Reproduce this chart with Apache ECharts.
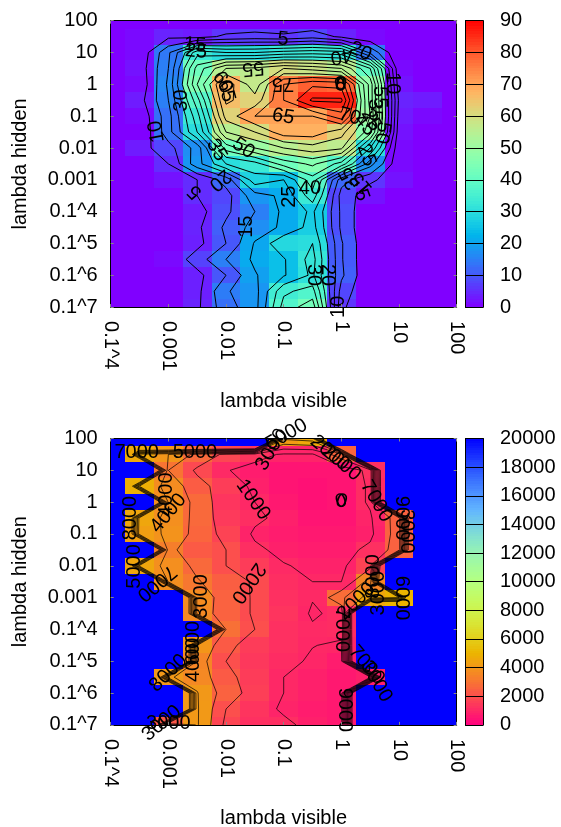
<!DOCTYPE html>
<html><head><meta charset="utf-8">
<style>html,body{margin:0;padding:0;background:#fff}#c{width:561px;height:827px}</style>
<script src="https://cdn.jsdelivr.net/npm/echarts@6/dist/echarts.min.js"></script>
</head><body><div id="c"></div>
<script>
var xTickLabels=['0.1^4','0.001','0.01','0.1','1','10','100'];
var yTickLabels=['0.1^7','0.1^6','0.1^5','0.1^4','0.001','0.01','0.1','1','10','100'];
var xName='lambda visible', yName='lambda hidden';
// rows listed from lambda hidden = 100 (top) down to 0.1^7
var accuracyRows=[
[0,0,0,0,0,0,0,0,0,0,0,0,0],
[0,1,4,3,6,7,6,8,4,1,0,0,0],
[0,1,14,33,30,30,32,33,32,14,0,0,0],
[0,2,15,42,55,56,60,58,55,40,1,0,0],
[0,1,16,45,68,57,75,79,78,48,2,0,0],
[0,3,15,38,66,62,75,86,86,48,4,3,0],
[0,1,13,33,62,70,70,70,78,50,3,1,0],
[0,0,13,30,55,60,68,68,62,47,2,0,0],
[0,3,8,17,42,50,55,58,56,30,1,0,0],
[0,0,5,18,30,33,42,46,38,17,1,0,0],
[0,0,2,5,12,28,25,38,12,6,2,0,0],
[0,0,0,5,8,18,21,33,8,2,0,0,0],
[0,0,0,3,9,15,21,26,9,0,0,0,0],
[0,0,0,4,11,17,21,27,9,0,0,0,0],
[0,0,0,3.5,10,20.5,29,30,10.5,0,0,0,0],
[0,0,1,7.5,15,21,24.5,32,10.5,0,0,0,0],
[0,0,0,3.5,10,19.5,24.5,31,11,0,0,0,0],
[0,0,0,3.5,14.5,18,34,37,8,0,0,0,0],
[0,0,0,4,13,18,37,43,6,0,0,0,0]];
var B=26000;
var timeRows=[
[B,B,B,B,B,B,4200,4600,B,B,B,B,B],
[B,4600,4000,2700,1800,1300,900,900,2600,B,B,B,B],
[B,B,3000,1840,1050,700,500,500,500,1200,B,B,B],
[B,4800,3700,2350,1550,800,500,400,500,1100,B,B,B],
[B,B,3800,2730,1330,1000,600,400,500,1100,B,B,B],
[B,4500,3800,2700,1450,1150,800,500,500,900,2500,B,B],
[B,4300,3900,2600,1700,880,700,600,600,800,2500,B,B],
[B,B,3300,2300,2000,1150,800,700,700,1200,2500,B,B],
[B,4500,3800,2700,2000,1500,1050,850,850,1700,B,B,B],
[B,B,3800,3100,2400,1900,1150,1000,1000,3500,B,B,B],
[B,B,B,3700,2500,1900,1200,1020,2800,4500,5000,B,B],
[B,B,B,3600,2500,1900,1300,950,1100,B,B,B,B],
[B,B,B,B,2900,2000,1200,1050,1100,B,B,B,B],
[B,B,B,4000,2300,1500,1200,1010,950,B,B,B,B],
[B,B,B,3500,2000,1400,1100,950,700,B,B,B,B],
[B,B,4100,3600,2300,1500,1000,800,600,800,B,B,B],
[B,B,B,4050,2500,1600,1000,800,600,B,B,B,B],
[B,B,B,4100,2000,1300,900,700,600,B,B,B,B],
[B,B,2200,4100,1750,1200,1150,800,600,B,B,B,B]];
var accuracyLevels=[5,10,15,20,25,30,35,40,45,50,55,60,65,70,75,80,85];
var timeLevels=[1000,2000,3000,4000,5000,6000,7000,8000,9000,10000];
// contour labels: text, column, row, angle
var accuracyLabels=[['5',5.98,16.83,-5],['15',2.92,16.48,-5],['25',2.96,16.06,-5],['20',8.66,16.06,-25],['40',8.0,15.79,190],['55',4.94,15.01,185],['30',2.46,12.98,90],['10',1.59,11.03,100],['60',3.88,14.11,-60],['65',4.0,13.6,-75],['75',5.98,14.03,180],['65',5.98,11.97,-10],['70',8.29,11.97,-15],['50',4.6,9.98,-35],['35',3.67,9.87,-60],['20',3.79,7.99,220],['5',2.92,7.25,135],['25',6.21,6.94,90],['40',6.91,7.46,0],['15',4.71,5.05,90],['30',7.02,2.01,-90],['20',7.52,2.01,-90],['10',7.9,0.02,90],['10',9.79,14.07,-90],['55',9.33,13.19,-90],['35',9.16,12.39,-90],['25',9.04,11.76,-60],['45',8.81,11.45,-50],['50',9.42,10.96,-100],['25',8.87,9.56,-70],['35',8.29,8.09,120],['15',8.7,7.78,130],['5',8.7,7.04,-70],['0',7.97,13.96,20],['0',7.97,13.96,-20],['8',7.97,13.96,0]];
var timeLabels=[['7000',0.9,17.09,0],['5000',2.92,17.09,0],['5000',6.1,18.24,30],['3000',5.58,17.3,60],['2000',7.6,17.09,-40],['2000',8.0,16.46,-40],['7000',9.21,14.05,-60],['9000',10.08,13,-90],['3000',10.25,12.16,-90],['8000',0.67,13,90],['5000',0.84,9.96,90],['7000',1.59,8.91,-140],['4000',1.94,14.47,90],['4000',2.0,13.31,50],['3000',3.15,8.07,90],['2000',4.77,8.91,-125],['1000',4.94,14.15,-55],['8000',9.1,9.33,90],['3000',9.27,8.28,90],['6000',10.08,7.97,-90],['2000',8.52,7.76,45],['7000',8.0,5.97,-90],['6000',2.86,5.14,90],['4000',2.86,4.09,90],['8000',2.0,3.25,45],['3000',2.0,0.06,0],['3000',1.77,0.1,40],['7000',8.87,3.77,-50],['3000',9.21,2.73,-60],['9000',8.12,0.94,-90],['0',8.0,14.05,20],['0',8.0,14.05,-20]];
var accuracyTicks={max:90,step:10}, timeTicks={max:20000,step:2000};

var FONT='"Liberation Sans"', FS=20;
function rainbow(t){t=Math.max(0,Math.min(1,t));return 'rgb('+[Math.abs(2*t-0.5),Math.sin(Math.PI*t),Math.cos(Math.PI*t/2)].map(function(v){return Math.round(255*Math.min(1,v));}).join(',')+')';}
function rainbowRev(t){t=Math.max(0,Math.min(1,t));return 'rgb('+[Math.cos(Math.PI*t/2),Math.sin(Math.PI*t),Math.abs(2*t-0.5)].map(function(v){return Math.round(255*Math.min(1,v));}).join(',')+')';}
function cells(rows){var o=[],n=rows.length;rows.forEach(function(r,k){r.forEach(function(v,i){o.push([i,n-1-k,v]);});});return o;}
function contour(rows,levels){
  var n=rows.length,m=rows[0].length,out=[];
  function g(i,j){return rows[n-1-j][i];}
  levels.forEach(function(L){
    for(var j=0;j<n-1;j++)for(var i=0;i<m-1;i++){
      var c=[[i,j,g(i,j)],[i+1,j,g(i+1,j)],[i+1,j+1,g(i+1,j+1)],[i,j+1,g(i,j+1)]],p=[];
      for(var e=0;e<4;e++){var a=c[e],b=c[(e+1)%4];
        if((a[2]<L)!==(b[2]<L)){var t=(L-a[2])/(b[2]-a[2]);p.push([a[0]+t*(b[0]-a[0]),a[1]+t*(b[1]-a[1])]);}}
      for(var q=0;q+1<p.length;q+=2){out.push(p[q],p[q+1],['-','-']);}
    }
  });
  return out;
}
var opt={animation:false,backgroundColor:'#fff',textStyle:{fontFamily:FONT},grid:[],xAxis:[],yAxis:[],series:[]};
function axisBase(extra){var a={z:10,silent:true,splitLine:{show:false},axisLine:{show:true,onZero:false,lineStyle:{color:'#000',width:1}}};for(var k in extra)a[k]=extra[k];return a;}
function box(p,api,a,b,c){var x0=Math.round(a[0]),y0=Math.round(a[1]),x1=Math.round(b[0]),y1=Math.round(b[1]);
  return {type:'rect',shape:{x:x0,y:y0,width:x1-x0,height:y1-y0},style:{fill:c}};}
function panel(top,rows,levels,labels,colorFn,maxV,ticks,lw){
  var h=286.4,g=opt.grid.length;
  opt.grid.push({left:110.7,width:346,top:top,height:h,containLabel:false,outerBoundsMode:'none'});
  opt.grid.push({left:465.5,width:17.5,top:top,height:h,containLabel:false,outerBoundsMode:'none'});
  var xi=opt.xAxis.length,yi=opt.yAxis.length;
  opt.xAxis.push(axisBase({type:'value',gridIndex:g,position:'bottom',min:0,max:12,interval:2,name:xName,nameLocation:'middle',nameGap:84,nameTextStyle:{color:'#000',fontSize:FS,fontFamily:FONT},
    axisTick:{show:true,inside:true,length:3,lineStyle:{color:'#888'}},
    axisLabel:{color:'#000',fontSize:FS,fontFamily:FONT,rotate:-90,margin:14,hideOverlap:false,showMinLabel:true,showMaxLabel:true,formatter:function(v){return xTickLabels[v/2];}}}));
  opt.xAxis.push(axisBase({type:'value',gridIndex:g,position:'top',min:0,max:12,interval:2,axisTick:{show:true,inside:true,length:3,lineStyle:{color:'#888'}},axisLabel:{show:false}}));
  opt.yAxis.push(axisBase({type:'value',gridIndex:g,position:'left',min:0,max:18,interval:2,name:yName,nameLocation:'middle',nameGap:80,nameRotate:90,nameTextStyle:{color:'#000',fontSize:FS,fontFamily:FONT},
    axisTick:{show:true,inside:true,length:3,lineStyle:{color:'#888'}},
    axisLabel:{color:'#000',fontSize:FS,fontFamily:FONT,margin:13,hideOverlap:false,showMinLabel:true,showMaxLabel:true,formatter:function(v){return yTickLabels[v/2];}}}));
  opt.yAxis.push(axisBase({type:'value',gridIndex:g,position:'right',min:0,max:18,interval:2,axisTick:{show:true,inside:true,length:3,lineStyle:{color:'#888'}},axisLabel:{show:false}}));
  opt.series.push({type:'custom',coordinateSystem:'cartesian2d',xAxisIndex:xi,yAxisIndex:yi,clip:true,z:1,data:cells(rows),silent:true,
    renderItem:function(p,api){var x=api.value(0),y=api.value(1);return box(p,api,api.coord([x-.5,y+.5]),api.coord([x+.5,y-.5]),colorFn(api.value(2)/maxV));}});
  opt.series.push({type:'line',xAxisIndex:xi,yAxisIndex:yi,z:3,silent:true,symbol:'none',connectNulls:false,smooth:false,data:contour(rows,levels),lineStyle:{color:'#000',width:lw}});
  opt.series.push({type:'scatter',xAxisIndex:xi,yAxisIndex:yi,z:4,silent:true,symbolSize:1,itemStyle:{opacity:0},clip:false,
    data:labels.map(function(l){return {value:[l[1],l[2]],label:{show:true,opacity:1,position:'inside',formatter:l[0],rotate:l[3],color:'#000',fontSize:FS,fontFamily:FONT}};})});
  // colour box
  var cx=opt.xAxis.length,cy=opt.yAxis.length,bands=[],steps=ticks.max/ticks.step*12;
  for(var s=0;s<steps;s++)bands.push([ticks.max*s/steps,ticks.max*(s+1)/steps]);
  opt.xAxis.push(axisBase({type:'value',gridIndex:g+1,position:'bottom',min:0,max:1,axisTick:{show:false},axisLabel:{show:false}}));
  opt.xAxis.push(axisBase({type:'value',gridIndex:g+1,position:'top',min:0,max:1,axisTick:{show:false},axisLabel:{show:false}}));
  opt.yAxis.push(axisBase({type:'value',gridIndex:g+1,position:'right',min:0,max:ticks.max,interval:ticks.step,
    axisTick:{show:true,inside:true,length:17.5,lineStyle:{color:'#000',width:1}},
    axisLabel:{color:'#000',fontSize:FS,fontFamily:FONT,margin:17,hideOverlap:false,showMinLabel:true,showMaxLabel:true,formatter:function(v){return String(v);}}}));
  opt.yAxis.push(axisBase({type:'value',gridIndex:g+1,position:'left',min:0,max:ticks.max,axisTick:{show:false},axisLabel:{show:false}}));
  opt.series.push({type:'custom',coordinateSystem:'cartesian2d',xAxisIndex:cx,yAxisIndex:cy,z:1,clip:true,silent:true,data:bands.map(function(b){return [0,b[0],b[1]];}),
    renderItem:function(p,api){return box(p,api,api.coord([0,api.value(2)]),api.coord([1,api.value(1)]),colorFn((api.value(1)+api.value(2))/2/maxV));},encode:{x:0,y:[1,2]}});
}
panel(20.7,accuracyRows,accuracyLevels,accuracyLabels,rainbow,accuracyTicks.max,accuracyTicks,1);
panel(438.5,timeRows,timeLevels,timeLabels,rainbowRev,timeTicks.max,timeTicks,0.7);
echarts.init(document.getElementById('c'),null,{renderer:'canvas'}).setOption(opt);
</script></body></html>
